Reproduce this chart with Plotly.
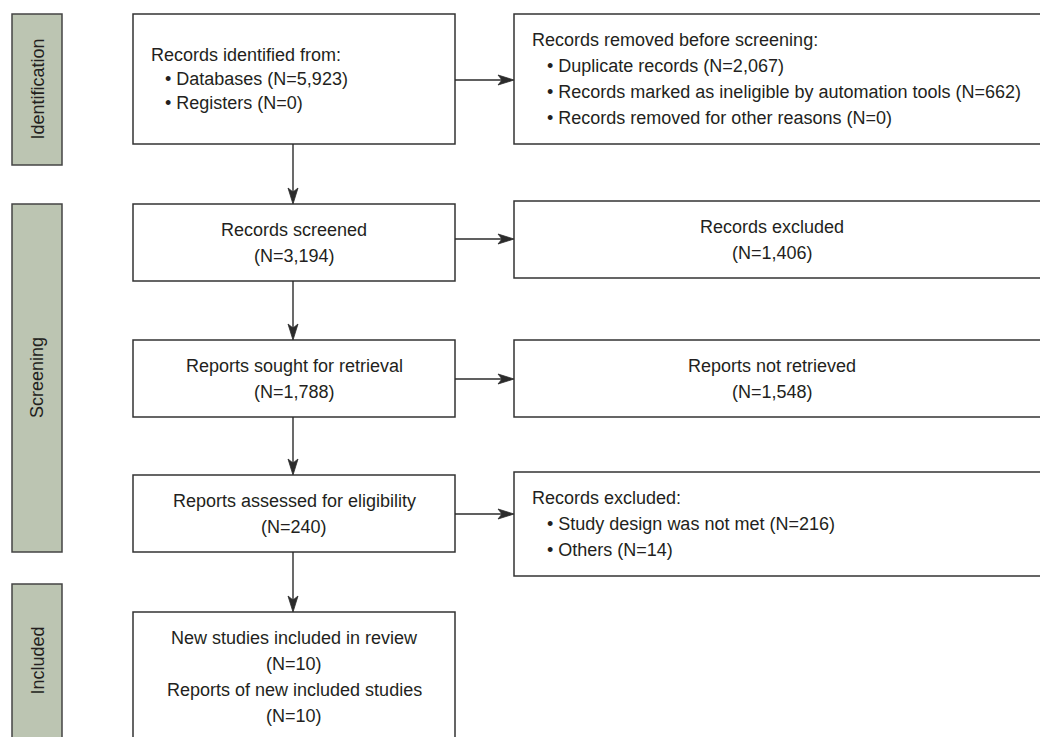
import plotly.graph_objects as go

# ---------------- data ----------------
phase_names = ["Identification", "Screening", "Included"]

identified_labels = ["Databases", "Registers"]
identified_counts = [5923, 0]

removed_labels = ["Duplicate records",
                  "Records marked as ineligible by automation tools",
                  "Records removed for other reasons"]
removed_counts = [2067, 662, 0]

flow_labels = ["Records screened", "Reports sought for retrieval",
               "Reports assessed for eligibility"]
flow_counts = [3194, 1788, 240]

side_labels = ["Records excluded", "Reports not retrieved"]
side_counts = [1406, 1548]

excluded_labels = ["Study design was not met", "Others"]
excluded_counts = [216, 14]

included_labels = ["New studies included in review", "Reports of new included studies"]
included_counts = [10, 10]

# ---------------- layout geometry (pixels) ----------------
W, H = 1040, 737
FONT = "Liberation Sans, Arial, Helvetica, sans-serif"
TXT = "#231f20"
EDGE = "#333333"
ARROW = "#2b2b2b"
GREEN = "#bcc5b2"
FS = 18

phase_x = (12, 62)
phase_y = [(14, 165), (204, 552), (584, 745)]

main_x = (133, 455)
main_y = [(14, 144), (204, 281), (340, 417), (475, 552), (612, 745)]
side_x = (514, 1045)
side_y = [(14, 144), (201, 278), (340, 417), (472, 576)]
arrow_rows = [80, 239, 379, 514]
arrow_x = 293

HEAD_L, HEAD_W, NOTCH = 16, 10, 4

fig = go.Figure()
shapes = []
ann = []

def rect(x0, x1, y0, y1, fill="white", lw=1.5, color=EDGE):
    shapes.append(dict(type="rect", xref="x", yref="y", x0=x0, x1=x1, y0=y0, y1=y1,
                       fillcolor=fill, line=dict(color=color, width=lw), layer="below"))

def text(x, y, s, anchor="center", angle=0, size=FS):
    ann.append(dict(x=x, y=y, xref="x", yref="y", text=s, showarrow=False,
                    xanchor=anchor, yanchor="middle", textangle=angle,
                    font=dict(family=FONT, size=size, color=TXT)))

def arrow(x0, y0, x1, y1):
    dx, dy = x1 - x0, y1 - y0
    L = (dx * dx + dy * dy) ** 0.5
    ux, uy = dx / L, dy / L
    px, py = -uy, ux
    bx, by = x1 - ux * HEAD_L, y1 - uy * HEAD_L
    nx, ny = x1 - ux * (HEAD_L - NOTCH), y1 - uy * (HEAD_L - NOTCH)
    shapes.append(dict(type="line", xref="x", yref="y", x0=x0, y0=y0, x1=nx, y1=ny,
                       line=dict(color=ARROW, width=1.4)))
    path = (f"M{x1},{y1} L{bx + px * HEAD_W / 2},{by + py * HEAD_W / 2} "
            f"L{nx},{ny} L{bx - px * HEAD_W / 2},{by - py * HEAD_W / 2} Z")
    shapes.append(dict(type="path", xref="x", yref="y", path=path,
                       fillcolor=ARROW, line=dict(color=ARROW, width=0.8)))

def fmt(n):
    return f"(N={n:,})"

# phase boxes
for name, (y0, y1) in zip(phase_names, phase_y):
    rect(phase_x[0], phase_x[1], y0, y1, fill=GREEN, lw=1.5, color="#444444")
    text((phase_x[0] + phase_x[1]) / 2, (y0 + min(y1, H)) / 2, name, angle=-90)

# main boxes
for (y0, y1) in main_y:
    rect(main_x[0], main_x[1], y0, y1)
for (y0, y1) in side_y:
    rect(side_x[0], side_x[1], y0, y1)

# box 1 text (left aligned list)
SP = 24
lines = ["Records identified from:"] + [f"\u2022 {l} {fmt(c)}" for l, c in zip(identified_labels, identified_counts)]
cy = (main_y[0][0] + main_y[0][1]) / 2
for i, s in enumerate(lines):
    text(149 if i == 0 else 163, cy + (i - (len(lines) - 1) / 2) * SP, s, anchor="left")

# side box 1 text
SP2 = 26
lines = ["Records removed before screening:"] + [f"\u2022 {l} {fmt(c)}" for l, c in zip(removed_labels, removed_counts)]
cy = (side_y[0][0] + side_y[0][1]) / 2
for i, s in enumerate(lines):
    text(530 if i == 0 else 545, cy + (i - (len(lines) - 1) / 2) * SP2, s, anchor="left")

# flow boxes 2-4
mcx = (main_x[0] + main_x[1]) / 2
for k, (lab, c) in enumerate(zip(flow_labels, flow_counts)):
    y0, y1 = main_y[k + 1]
    cy = (y0 + y1) / 2
    text(mcx, cy - 13, lab)
    text(mcx, cy + 13, fmt(c))

# side boxes 2-3
scx = (side_x[0] + 1030) / 2
for k, (lab, c) in enumerate(zip(side_labels, side_counts)):
    y0, y1 = side_y[k + 1]
    cy = (y0 + y1) / 2
    text(scx, cy - 13, lab)
    text(scx, cy + 13, fmt(c))

# side box 4 (excluded list)
lines = ["Records excluded:"] + [f"\u2022 {l} {fmt(c)}" for l, c in zip(excluded_labels, excluded_counts)]
cy = (side_y[3][0] + side_y[3][1]) / 2
for i, s in enumerate(lines):
    text(530 if i == 0 else 545, cy + (i - (len(lines) - 1) / 2) * 26, s, anchor="left")

# included box
ys = [638, 664, 690, 716]
inc_lines = []
for l, c in zip(included_labels, included_counts):
    inc_lines += [l, fmt(c)]
for y, s in zip(ys, inc_lines):
    text(mcx, y, s)

# vertical arrows
for k in range(len(main_y) - 1):
    arrow(arrow_x, main_y[k][1], arrow_x, main_y[k + 1][0])
# horizontal arrows
for y in arrow_rows:
    arrow(main_x[1], y, side_x[0], y)

fig.update_layout(
    width=W, height=H, margin=dict(l=0, r=0, t=0, b=0),
    paper_bgcolor="white", plot_bgcolor="white",
    xaxis=dict(range=[0, W], visible=False, fixedrange=True),
    yaxis=dict(range=[H, 0], visible=False, fixedrange=True),
    shapes=shapes, annotations=ann, showlegend=False,
)
fig.write_html("out.html", config={"displayModeBar": False},
               post_script="document.body.style.margin='0px';document.body.style.overflow='hidden';")
